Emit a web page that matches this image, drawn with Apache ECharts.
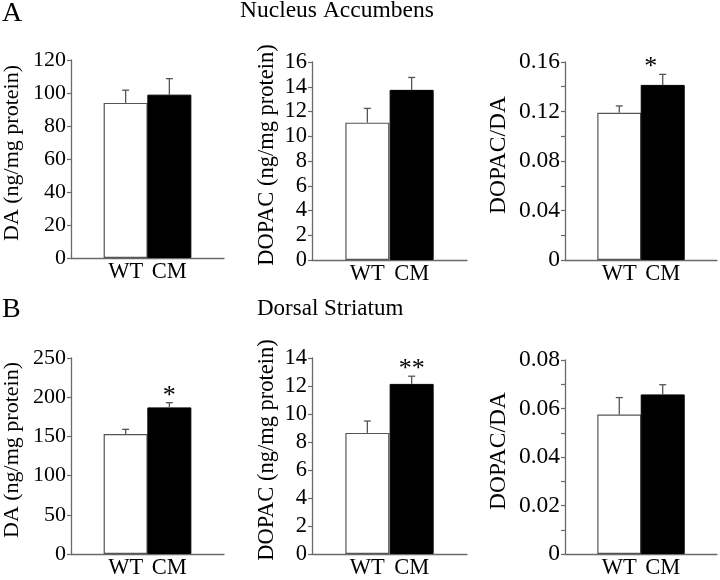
<!DOCTYPE html>
<html><head><meta charset="utf-8">
<script src="https://cdn.jsdelivr.net/npm/echarts@6/dist/echarts.min.js"></script>
<style>html,body{margin:0;padding:0;background:#fff}#c{width:720px;height:580px}</style>
</head><body><div id="c"></div>
<script>
// ---- data ----
const groups = ['WT', 'CM'];
// Nucleus Accumbens
const naDA = [94, 99];
const naDASem = [7.7, 9.7];
const naDASig = ['', ''];
const naDOPAC = [11.1, 13.75];
const naDOPACSem = [1.15, 1.0];
const naDOPACSig = ['', ''];
const naRatio = [0.119, 0.1415];
const naRatioSem = [0.0055, 0.0085];
const naRatioSig = ['', '*'];
// Dorsal Striatum
const dsDA = [153, 187];
const dsDASem = [6, 6];
const dsDASig = ['', '*'];
const dsDOPAC = [8.65, 12.15];
const dsDOPACSem = [0.85, 0.55];
const dsDOPACSig = ['', '**'];
const dsRatio = [0.0575, 0.0658];
const dsRatioSem = [0.007, 0.004];
const dsRatioSig = ['', ''];
// axis ticks
const yMax = [120, 16, 0.16, 250, 14, 0.08];
const yStep = [20, 2, 0.04, 50, 2, 0.02];
const yNames = ['DA (ng/mg protein)', 'DOPAC (ng/mg protein)', 'DOPAC/DA',
                'DA (ng/mg protein)', 'DOPAC (ng/mg protein)', 'DOPAC/DA'];
const sectionLabels = ['A', 'B'];
const sectionTitles = ['Nucleus Accumbens', 'Dorsal Striatum'];

// ---- layout ----
const FONT = '"Liberation Serif", "Times New Roman", serif';
const AX = '#6a6a6a';
const panels = [
  {mean: naDA, sem: naDASem, sig: naDASig, grid: {left: 70, top: 60, width: 154, height: 198}, fs: 22, gap: 48, minor: false, sigDx: 0},
  {mean: naDOPAC, sem: naDOPACSem, sig: naDOPACSig, grid: {left: 312, top: 62, width: 155, height: 198}, fs: 22.5, gap: 33, minor: false, sigDx: 0},
  {mean: naRatio, sem: naRatioSem, sig: naRatioSig, grid: {left: 565, top: 62, width: 154, height: 198}, fs: 23.5, gap: 54, minor: true, sigDx: -12},
  {mean: dsDA, sem: dsDASem, sig: dsDASig, grid: {left: 70, top: 358, width: 154, height: 200}, fs: 22, gap: 48, minor: false, sigDx: 0},
  {mean: dsDOPAC, sem: dsDOPACSem, sig: dsDOPACSig, grid: {left: 312, top: 358, width: 155, height: 200}, fs: 22.5, gap: 33, minor: false, sigDx: 0},
  {mean: dsRatio, sem: dsRatioSem, sig: dsRatioSig, grid: {left: 565, top: 360, width: 154, height: 198}, fs: 23.5, gap: 54, minor: true, sigDx: 0}
];

const grid = [], xAxis = [], yAxis = [], series = [];
panels.forEach((p, i) => {
  grid.push(Object.assign({containLabel: false}, p.grid));
  xAxis.push({
    type: 'value', gridIndex: i, min: -1.25, max: 2.25, interval: 0.25,
    axisLine: {show: true, onZero: false, lineStyle: {color: AX, width: 1.3}},
    axisTick: {show: false}, splitLine: {show: false},
    axisLabel: {
      margin: 3, fontSize: 22.5, fontFamily: FONT, color: '#000',
      formatter: v => {
        const r = Math.round(v);
        return Math.abs(v - r) < 1e-9 && groups[r] !== undefined ? groups[r] : '';
      }
    }
  });
  yAxis.push({
    type: 'value', gridIndex: i, min: 0, max: yMax[i], interval: yStep[i],
    name: yNames[i], nameLocation: 'middle', nameGap: p.gap,
    nameTextStyle: {fontSize: p.fs, fontFamily: FONT, color: '#000', padding: [0, 0, 0, 12]},
    axisLine: {show: true, onZero: false, lineStyle: {color: AX, width: 1.3}},
    axisTick: {show: true, length: 4, lineStyle: {color: AX, width: 1.2}},
    minorTick: {show: p.minor, splitNumber: 2, length: 4, lineStyle: {color: AX, width: 1.2}},
    splitLine: {show: false}, minorSplitLine: {show: false},
    axisLabel: {margin: 5, fontSize: p.fs, fontFamily: FONT, color: '#000'}
  });
  series.push({
    type: 'bar', xAxisIndex: i, yAxisIndex: i, barWidth: 44,
    data: p.mean.map((v, j) => ({
      value: [j, v],
      itemStyle: j === 0 ? {color: '#fff', borderColor: '#555', borderWidth: 1.2}
                         : {color: '#000', borderColor: '#000', borderWidth: 1}
    })),
    animation: false
  });
  series.push({
    type: 'custom', xAxisIndex: i, yAxisIndex: i, clip: false, z: 5,
    data: p.mean.map((v, j) => [j, v, v + p.sem[j]]),
    encode: {x: 0, y: [1, 2]},
    renderItem: (params, api) => {
      const x = api.value(0);
      const a = api.coord([x, api.value(1)]);
      const b = api.coord([x, api.value(2)]);
      const st = {stroke: '#555', lineWidth: 1.3};
      const children = [
        {type: 'line', shape: {x1: a[0], y1: a[1], x2: b[0], y2: b[1]}, style: st},
        {type: 'line', shape: {x1: b[0] - 3.5, y1: b[1], x2: b[0] + 3.5, y2: b[1]}, style: st}
      ];
      const s = p.sig[params.dataIndex];
      if (s) {
        children.push({type: 'text', style: {text: s, x: b[0] + p.sigDx, y: b[1] - 7,
          align: 'center', verticalAlign: 'middle', fontSize: 26, fontFamily: FONT, fill: '#000'}});
      }
      return {type: 'group', children};
    },
    animation: false
  });
});

const graphic = [
  {type: 'text', style: {text: sectionLabels[0], x: 2, y: 13.5, fontSize: 28, fontFamily: FONT, fill: '#000', verticalAlign: 'middle'}},
  {type: 'text', style: {text: sectionTitles[0], x: 240, y: 10.6, fontSize: 23.5, fontFamily: FONT, fill: '#000', verticalAlign: 'middle'}},
  {type: 'text', style: {text: sectionLabels[1], x: 2, y: 309.5, fontSize: 28, fontFamily: FONT, fill: '#000', verticalAlign: 'middle'}},
  {type: 'text', style: {text: sectionTitles[1], x: 257, y: 309.2, fontSize: 23, fontFamily: FONT, fill: '#000', verticalAlign: 'middle'}}
];

const chart = echarts.init(document.getElementById('c'), null, {renderer: 'canvas'});
chart.setOption({backgroundColor: '#fff', animation: false, grid, xAxis, yAxis, series, graphic});
</script></body></html>
